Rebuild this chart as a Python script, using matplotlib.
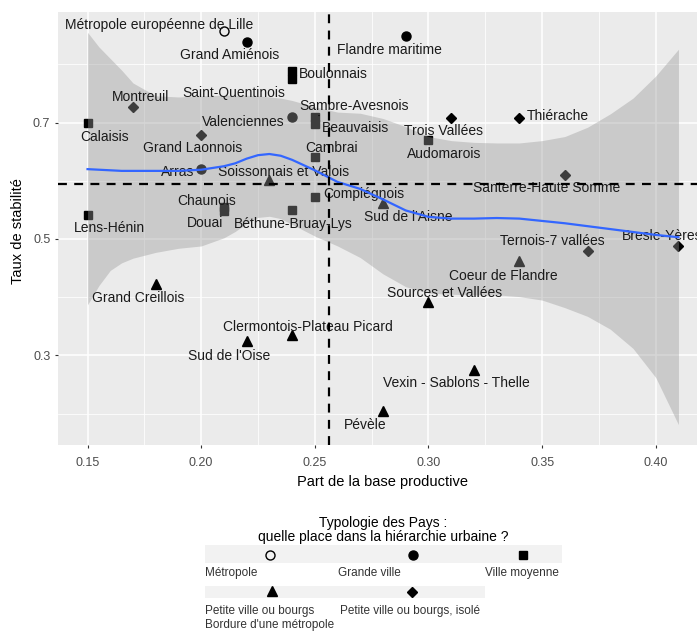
import numpy as np
import matplotlib
matplotlib.use("Agg")
import matplotlib.pyplot as plt
from matplotlib.lines import Line2D
from matplotlib.patches import Rectangle

plt.rcParams['font.family'] = ['Liberation Sans', 'DejaVu Sans']

# --- data ---
pays = ["Métropole européenne de Lille", "Grand Amiénois", "Flandre maritime", "Arras",
        "Valenciennes", "Boulonnais", "Saint-Quentinois", "Calaisis", "Sambre-Avesnois",
        "Beauvaisis", "Cambrai", "Compiégnois", "Chaunois", "Douai", "Béthune-Bruay-Lys",
        "Lens-Hénin", "Audomarois", "Soissonnais et Valois", "Grand Creillois", "Sud de l'Oise",
        "Clermontois-Plateau Picard", "Pévèle", "Vexin - Sablons - Thelle", "Sources et Vallées",
        "Coeur de Flandre", "Sud de l'Aisne", "Montreuil", "Grand Laonnois", "Trois Vallées",
        "Thiérache", "Santerre-Haute Somme", "Ternois-7 vallées", "Bresle-Yères"]
base_productive = [0.21, 0.22, 0.29, 0.20, 0.24, 0.24, 0.24, 0.15, 0.25, 0.25, 0.25, 0.25,
                   0.21, 0.21, 0.24, 0.15, 0.30, 0.23, 0.18, 0.22, 0.24, 0.28, 0.32, 0.30,
                   0.34, 0.28, 0.17, 0.20, 0.31, 0.34, 0.36, 0.37, 0.41]
stabilite = [0.857, 0.838, 0.849, 0.620, 0.710, 0.788, 0.775, 0.700, 0.710, 0.698, 0.641, 0.572,
             0.555, 0.548, 0.550, 0.541, 0.670, 0.601, 0.423, 0.325, 0.335, 0.205, 0.275, 0.392,
             0.462, 0.562, 0.727, 0.679, 0.708, 0.708, 0.610, 0.479, 0.488]
typologie = ["Métropole", "Grande ville", "Grande ville", "Grande ville", "Grande ville",
             "Ville moyenne", "Ville moyenne", "Ville moyenne", "Ville moyenne", "Ville moyenne",
             "Ville moyenne", "Ville moyenne", "Ville moyenne", "Ville moyenne", "Ville moyenne",
             "Ville moyenne", "Ville moyenne", "Bordure", "Bordure", "Bordure", "Bordure",
             "Bordure", "Bordure", "Bordure", "Bordure", "Bordure", "Isolé", "Isolé", "Isolé",
             "Isolé", "Isolé", "Isolé", "Isolé"]

# loess curve (geom_smooth)
lisse_x = [0.15, 0.155, 0.16, 0.165, 0.17, 0.18, 0.19, 0.20, 0.21, 0.215, 0.22, 0.225, 0.23,
           0.235, 0.24, 0.25, 0.26, 0.27, 0.28, 0.29, 0.30, 0.31, 0.32, 0.33, 0.34, 0.35,
           0.36, 0.37, 0.38, 0.39, 0.40, 0.41]
lisse_y = [0.620, 0.619, 0.618, 0.617, 0.617, 0.617, 0.617, 0.619, 0.625, 0.630, 0.638, 0.644,
           0.646, 0.643, 0.636, 0.618, 0.598, 0.586, 0.568, 0.549, 0.538, 0.535, 0.535, 0.536,
           0.535, 0.531, 0.527, 0.522, 0.517, 0.512, 0.507, 0.503]
lisse_haut = [0.855, 0.830, 0.810, 0.790, 0.768, 0.746, 0.744, 0.746, 0.747, 0.747, 0.747, 0.746,
              0.744, 0.742, 0.738, 0.727, 0.718, 0.716, 0.707, 0.693, 0.676, 0.669, 0.666, 0.665,
              0.665, 0.669, 0.676, 0.692, 0.715, 0.742, 0.780, 0.826]
lisse_bas = [0.387, 0.420, 0.446, 0.459, 0.467, 0.477, 0.484, 0.488, 0.502, 0.513, 0.527, 0.537,
             0.539, 0.535, 0.525, 0.505, 0.488, 0.468, 0.440, 0.418, 0.407, 0.405, 0.404, 0.404,
             0.401, 0.395, 0.382, 0.367, 0.345, 0.312, 0.262, 0.181]

# label offsets (pixels: right, down) as placed by ggrepel
decalages = {
    "Métropole européenne de Lille": (-65, -6), "Grand Amiénois": (-17, 13),
    "Flandre maritime": (-16, 14), "Arras": (-24, 3), "Valenciennes": (-49, 5),
    "Boulonnais": (41, 3), "Saint-Quentinois": (-58, 14), "Calaisis": (17, 14),
    "Sambre-Avesnois": (39, -11), "Beauvaisis": (41, 4), "Cambrai": (17, -9),
    "Compiégnois": (49, -3), "Chaunois": (-17, -6), "Douai": (-19, 12),
    "Béthune-Bruay-Lys": (1, 14), "Lens-Hénin": (22, 13), "Audomarois": (16, 14),
    "Soissonnais et Valois": (14, -8), "Grand Creillois": (-18, 14), "Sud de l'Oise": (-18, 15),
    "Clermontois-Plateau Picard": (16, -8), "Pévèle": (-18, 14),
    "Vexin - Sablons - Thelle": (-18, 13), "Sources et Vallées": (16, -9),
    "Coeur de Flandre": (-16, 15), "Sud de l'Aisne": (25, 14), "Montreuil": (8, -10),
    "Grand Laonnois": (-9, 13), "Trois Vallées": (-8, 13), "Thiérache": (38, -2),
    "Santerre-Haute Somme": (-18, 13), "Ternois-7 vallées": (-35, -10), "Bresle-Yères": (-16, -10),
}

styles = {
    "Métropole": dict(marker='o', ms=6.5, mfc='none', mec='black', mew=1.0),
    "Grande ville": dict(marker='o', ms=6.5, mfc='black', mec='black'),
    "Ville moyenne": dict(marker='s', ms=6.2, mfc='black', mec='black'),
    "Bordure": dict(marker='^', ms=7.5, mfc='black', mec='black'),
    "Isolé": dict(marker='D', ms=4.8, mfc='black', mec='black'),
}

W, H = 697, 631
fig = plt.figure(figsize=(W / 100, H / 100), dpi=100)
ax = fig.add_axes([58 / W, 1 - 445 / H, (708 - 58) / W, (445 - 12) / H])
ax.set_facecolor('#EBEBEB')
for s in ax.spines.values():
    s.set_visible(False)

ax.set_xlim(0.137, 0.423)
ax.set_ylim(0.146, 0.890)
ax.set_xticks([0.15, 0.20, 0.25, 0.30, 0.35, 0.40])
ax.set_xticklabels(["0.15", "0.20", "0.25", "0.30", "0.35", "0.40"])
ax.set_xticks([0.175, 0.225, 0.275, 0.325, 0.375], minor=True)
ax.set_yticks([0.3, 0.5, 0.7])
ax.set_yticklabels(["0.3", "0.5", "0.7"])
ax.set_yticks([0.2, 0.4, 0.6, 0.8], minor=True)
ax.grid(which='major', color='white', linewidth=1.1)
ax.grid(which='minor', color='white', linewidth=0.55)
ax.set_axisbelow(True)
ax.tick_params(which='major', length=2.5, width=0.8, color='#333333',
               labelsize=9, labelcolor='#4D4D4D')
ax.tick_params(axis='x', which='major', pad=6)
ax.tick_params(axis='y', which='major', pad=3)
ax.tick_params(which='minor', length=0)

# points (the ribbon is drawn over them)
for typ, st in styles.items():
    xs = [x for x, t in zip(base_productive, typologie) if t == typ]
    ys = [y for y, t in zip(stabilite, typologie) if t == typ]
    ax.plot(xs, ys, linestyle='none', zorder=2, **st)

# smooth ribbon
ax.fill_between(lisse_x, lisse_bas, lisse_haut, color='#999999', alpha=0.4,
                linewidth=0, zorder=3)

# labels
for nom, x, y in zip(pays, base_productive, stabilite):
    dx, dy = decalages[nom]
    kw = {}
    if nom == "Sambre-Avesnois":
        kw['arrowprops'] = dict(arrowstyle='-', color='black', lw=0.8, shrinkA=0, shrinkB=3)
    ax.annotate(nom, (x, y), xytext=(dx, -dy), textcoords='offset pixels',
                ha='center', va='center', fontsize=10, color='#1A1A1A', zorder=4, **kw)

ax.plot(lisse_x, lisse_y, color='#3366FF', linewidth=1.6, zorder=5)

# mean lines
ax.axvline(np.mean(base_productive), color='black', linewidth=1.6, dashes=(4, 3.3), zorder=6)
ax.axhline(np.mean(stabilite), color='black', linewidth=1.6, dashes=(4, 3.3), zorder=6)

fig.text(383 / W, 1 - 482 / H, "Part de la base productive", ha='center', va='center',
         fontsize=10.5, color='black')
fig.text(18 / W, 1 - 231 / H, "Taux de stabilité", ha='center', va='center',
         rotation=90, fontsize=10.5, color='black')

# legend drawn below the panel
fig.text(383 / W, 1 - 523 / H, "Typologie des Pays :", ha='center', va='center',
         fontsize=10, color='black')
fig.text(383 / W, 1 - 537 / H, "quelle place dans la hiérarchie urbaine ?", ha='center',
         va='center', fontsize=10, color='black')


def fx(px):
    return px / W


def fy(py):
    return 1 - py / H


fig.add_artist(Rectangle((fx(205), fy(563)), (562 - 205) / W, 18 / H,
                         transform=fig.transFigure, facecolor='#F2F2F2', edgecolor='none'))
fig.add_artist(Rectangle((fx(205), fy(598)), (485 - 205) / W, 12 / H,
                         transform=fig.transFigure, facecolor='#F2F2F2', edgecolor='none'))

cles = [("Métropole", 270, 555, 205, ["Métropole"]),
        ("Grande ville", 413, 555, 338, ["Grande ville"]),
        ("Ville moyenne", 523, 555, 485, ["Ville moyenne"]),
        ("Bordure", 272, 591, 205, ["Petite ville ou bourgs", "Bordure d'une métropole"]),
        ("Isolé", 412, 592, 340, ["Petite ville ou bourgs, isolé"])]
for typ, mx, my, tx, lignes in cles:
    fig.add_artist(Line2D([fx(mx)], [fy(my)], transform=fig.transFigure,
                          linestyle='none', **styles[typ]))
    ty = 573 if my < 570 else 611
    for i, ligne in enumerate(lignes):
        fig.text(fx(tx), fy(ty + 14 * i), ligne, ha='left', va='center',
                 fontsize=8.5, color='#333333')

fig.savefig("out.png", dpi=100)
